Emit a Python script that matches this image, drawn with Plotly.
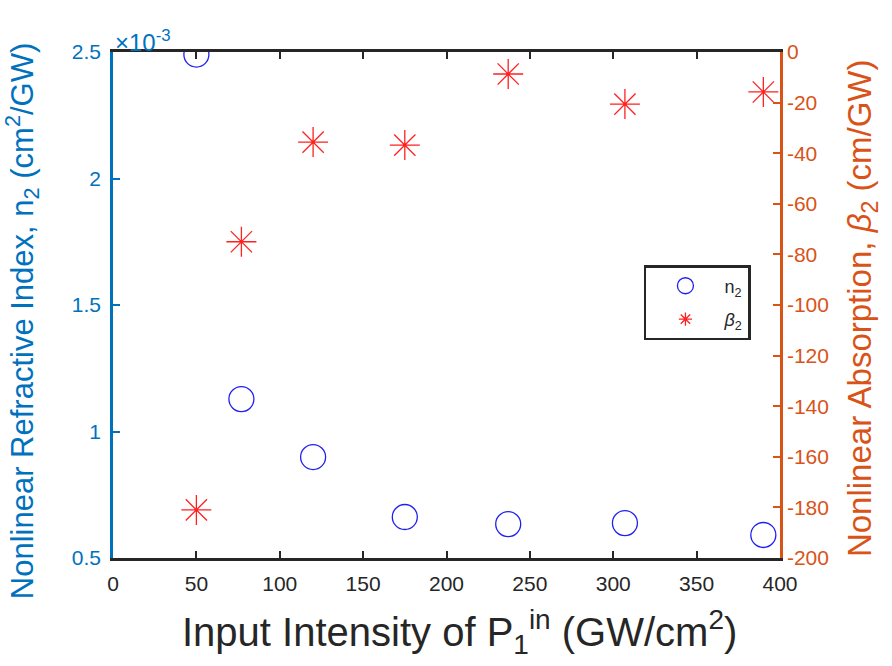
import plotly.graph_objects as go

# Data
intensity = [50, 77, 120, 175, 237, 307, 390]            # GW/cm^2
n2_e3 = [2.49, 1.128, 0.899, 0.662, 0.634, 0.638, 0.591]  # n2 in units of 1e-3 cm^2/GW
beta2 = [-181, -75, -35.6, -36.8, -8.7, -20.6, -15.8]     # cm/GW

x_ticks = [0, 50, 100, 150, 200, 250, 300, 350, 400]
left_ticks = [0.5, 1, 1.5, 2, 2.5]
left_ticktext = ["0.5", "1", "1.5", "2", "2.5"]
right_ticks = list(range(-200, 1, 20))
right_ticktext = [str(v) for v in right_ticks]   # plain hyphen minus, as in the reference

BLUE = "#0072BD"
ORANGE = "#D95319"
DARK = "#262626"
FONT = "Liberation Sans, Arial, sans-serif"
TICK = 21

fig = go.Figure()
fig.add_trace(go.Scatter(
    x=intensity, y=n2_e3, mode="markers", showlegend=False,
    marker=dict(symbol="circle-open", size=25, color="#2020F0", line=dict(width=1.3)),
    yaxis="y",
))
fig.add_trace(go.Scatter(
    x=intensity, y=beta2, mode="markers", showlegend=False,
    marker=dict(symbol="asterisk-open", size=25, color="#FF2020",
                line=dict(width=1.3, color="#FF2020")),
    yaxis="y2",
))
# legend entries (smaller markers, as in the reference legend)
fig.add_trace(go.Scatter(
    x=[None], y=[None], mode="markers", name="n<sub>2</sub>", legendgroup="a",
    marker=dict(symbol="circle-open", size=16, color="#2020F0", line=dict(width=1.3)),
))
fig.add_trace(go.Scatter(
    x=[None], y=[None], mode="markers", name="<i>β</i><sub>2</sub>", legendgroup="b",
    marker=dict(symbol="asterisk-open", size=11, color="#FF2020",
                line=dict(width=1.3, color="#FF2020")),
))

fig.update_layout(
    width=892, height=666,
    margin=dict(l=113, r=112, t=52, b=108),
    paper_bgcolor="white", plot_bgcolor="white",
    font=dict(family=FONT, size=TICK, color=DARK),
    xaxis=dict(
        range=[0, 400], tickvals=x_ticks, ticks="inside", ticklen=7, tickwidth=2,
        tickcolor=DARK, showline=True, linecolor=DARK, linewidth=2.5, mirror="ticks",
        showgrid=False, zeroline=False, tickfont=dict(size=TICK, color=DARK),
        ticklabelstandoff=5,
    ),
    yaxis=dict(
        range=[0.5, 2.5], tickvals=left_ticks, ticktext=left_ticktext,
        ticks="inside", ticklen=7, tickwidth=2,
        tickcolor=BLUE, showline=True, linecolor=BLUE, linewidth=2.5,
        showgrid=False, zeroline=False, tickfont=dict(size=TICK, color=BLUE),
        ticklabelstandoff=5,
    ),
    yaxis2=dict(
        range=[-200, 0], tickvals=right_ticks, ticktext=right_ticktext,
        overlaying="y", side="right",
        ticks="inside", ticklen=7, tickwidth=2, tickcolor=ORANGE,
        showline=True, linecolor=ORANGE, linewidth=2.5,
        showgrid=False, zeroline=False, tickfont=dict(size=TICK, color=ORANGE),
    ),
    legend=dict(
        x=0.796, y=0.579, xanchor="left", yanchor="top",
        bgcolor="white", bordercolor=DARK, borderwidth=2.5,
        font=dict(size=18, color=DARK), itemwidth=68,
        traceorder="grouped", tracegroupgap=7,
    ),
    annotations=[
        dict(text="×10<sup>-3</sup>", xref="paper", yref="paper", x=0, y=1,
             xanchor="left", yanchor="bottom", showarrow=False,
             font=dict(size=24, color=BLUE), yshift=-6),
        dict(text="Input Intensity of P<sub>1</sub><sup>in</sup> (GW/cm<sup>2</sup>)",
             xref="paper", yref="paper", x=0.52, y=-0.146, xanchor="center", yanchor="middle",
             showarrow=False, font=dict(size=40, color=DARK)),
        dict(text="Nonlinear Refractive Index, n<sub>2</sub> (cm<sup>2</sup>/GW)",
             xref="paper", yref="paper", x=-0.1364, y=0.468, xanchor="center", yanchor="middle",
             textangle=-90, showarrow=False, font=dict(size=31, color=BLUE)),
        dict(text="Nonlinear Absorption, <i>β</i><sub>2</sub> (cm/GW)",
             xref="paper", yref="paper", x=1.123, y=0.494, xanchor="center", yanchor="middle",
             textangle=-90, showarrow=False, font=dict(size=33, color=ORANGE)),
    ],
)

fig.write_html("out.html")
